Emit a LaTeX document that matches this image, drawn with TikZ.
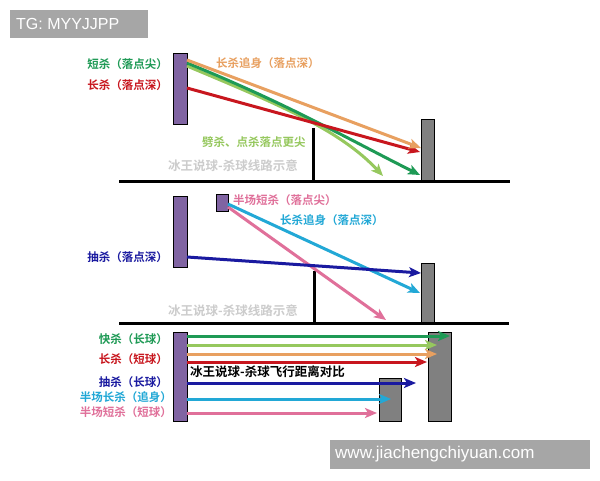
\documentclass[tikz,border=0pt]{standalone}
\usepackage{fontspec}
\setmainfont{Liberation Sans}
\newfontfamily\cjk{Noto Sans CJK SC}[BoldFont={Noto Sans CJK SC Bold}]
\usetikzlibrary{arrows.meta}
\definecolor{purp}{HTML}{8064A2}
\definecolor{blk}{HTML}{808080}
\definecolor{dkgreen}{HTML}{1E9A55}
\definecolor{ltgreen}{HTML}{96C85E}
\definecolor{orng}{HTML}{E8A060}
\definecolor{rred}{HTML}{C8161E}
\definecolor{bblue}{HTML}{1A1AA0}
\definecolor{ccyan}{HTML}{22A8D6}
\definecolor{pink}{HTML}{E0709A}
\definecolor{wmgray}{HTML}{A6A6A6}
\begin{document}
\begin{tikzpicture}[x=1pt,y=-1pt,
  racket/.style={draw=black,line width=1.4pt,fill=purp,inner sep=0pt,anchor=north west},
  block/.style={draw=black,line width=1.2pt,fill=blk,inner sep=0pt,anchor=north west},
  lbl/.style={font=\cjk\bfseries\fontsize{11.5}{13}\selectfont,inner sep=0pt},
  arr/.style={line width=3pt,-{Stealth[length=12pt,width=10pt,inset=3pt]}},
  wm/.style={font=\cjk\bfseries\fontsize{12.5}{14}\selectfont,text=gray!40,inner sep=0pt},
  court/.style={line width=3pt,black},
  stamp/.style={fill=wmgray,text=white,inner sep=0pt,font=\fontsize{16}{18}\selectfont}]
\useasboundingbox (0,0) rectangle (600,480);
\fill[white] (0,0) rectangle (600,480);
% watermarks
\node[stamp,minimum width=138pt,minimum height=28pt,anchor=north west] (tg) at (10,10) {};
\node[text=white,font=\fontsize{16}{18}\selectfont,anchor=west,inner sep=0pt] (tgt) at (16,24) {TG: MYYJJPP};
\node[stamp,minimum width=260pt,minimum height=29pt,anchor=north west] (web) at (330,440) {};
\node[text=white,font=\fontsize{17}{19}\selectfont,anchor=west,inner sep=0pt] (webt) at (335,454) {www.jiachengchiyuan.com};

% ===== Section 1 =====
\draw[court] (119,181) -- (510,181);
\draw[court] (313,128) -- (313,181);
\node[racket,minimum width=14pt,minimum height=71pt] (r1) at (173,53) {};
\node[block,minimum width=13pt,minimum height=61pt] (b1) at (421,119) {};
\node[lbl,text=dkgreen,anchor=east] (l11) at (168,64) {短杀（落点尖）};
\node[lbl,text=rred,anchor=east] (l12) at (168,85) {长杀（落点深）};
\node[lbl,text=orng,anchor=west] (l13) at (216,63) {长杀追身（落点深）};
\node[lbl,text=ltgreen,anchor=west] (l14) at (202,142) {劈杀、点杀落点更尖};
\node[wm,anchor=west] (w1) at (168,166) {冰王说球-杀球线路示意};
\coordinate (s1o) at (187,60);
\coordinate (s1r) at (187,88);
\coordinate (s1g) at (187,63);
\coordinate (s1l) at (187,66);
\coordinate (e1o) at (421,148);
\coordinate (e1r) at (420,152);
\coordinate (e1g) at (420,175);
\coordinate (e1l) at (383,176);
\draw[arr,ltgreen] (s1l) .. controls (280,105) and (340,130) .. (e1l);
\draw[arr,dkgreen] (s1g) .. controls (290,105) and (350,140) .. (e1g);
\draw[arr,rred] (s1r) -- (e1r);
\draw[arr,orng] (s1o) -- (e1o);

% ===== Section 2 =====
\draw[court] (119,323) -- (509,323);
\draw[court] (314,271) -- (314,323);
\node[racket,minimum width=14pt,minimum height=71pt] (r2) at (173,196) {};
\node[racket,minimum width=12pt,minimum height=17pt] (r2s) at (216,194) {};
\node[block,minimum width=13pt,minimum height=59pt] (b2) at (421,263) {};
\node[lbl,text=pink,anchor=west] (l21) at (233,200) {半场短杀（落点尖）};
\node[lbl,text=ccyan,anchor=west] (l22) at (280,220) {长杀追身（落点深）};
\node[lbl,text=bblue,anchor=east] (l23) at (168,257) {抽杀（落点深）};
\node[wm,anchor=west] (w2) at (168,311) {冰王说球-杀球线路示意};
\coordinate (s2b) at (187,257);
\coordinate (s2c) at (228,204);
\coordinate (s2p) at (228,207);
\coordinate (e2b) at (421,273);
\coordinate (e2c) at (420,293);
\coordinate (e2p) at (386,320);
\draw[arr,pink] (s2p) -- (e2p);
\draw[arr,ccyan] (s2c) -- (e2c);
\draw[arr,bblue] (s2b) -- (e2b);

% ===== Section 3 =====
\node[racket,minimum width=14pt,minimum height=89pt] (r3) at (173,332) {};
\node[block,minimum width=23pt,minimum height=89pt] (b3) at (428,332) {};
\node[block,minimum width=22pt,minimum height=43pt] (b3s) at (379,378) {};
\node[lbl,text=dkgreen,anchor=east] (l31) at (168,339) {快杀（长球）};
\node[lbl,text=rred,anchor=east] (l32) at (168,359) {长杀（短球）};
\node[lbl,text=bblue,anchor=east] (l33) at (168,382) {抽杀（长球）};
\node[lbl,text=ccyan,anchor=east] (l34) at (172,397) {半场长杀（追身）};
\node[lbl,text=pink,anchor=east] (l35) at (172,412) {半场短杀（短球）};
\node[font=\cjk\bfseries\fontsize{12.5}{14}\selectfont,inner sep=0pt,anchor=west] (t3) at (190,372) {冰王说球-杀球飞行距离对比};
\coordinate (s3a) at (187,336);
\coordinate (s3b) at (187,345);
\coordinate (s3c) at (187,354);
\coordinate (s3d) at (187,362);
\coordinate (s3e) at (187,383);
\coordinate (s3f) at (187,399);
\coordinate (s3g) at (187,413);
\coordinate (e3a) at (450,336);
\coordinate (e3b) at (437,345);
\coordinate (e3c) at (437,354);
\coordinate (e3d) at (427,362);
\coordinate (e3e) at (416,383);
\coordinate (e3f) at (391,399);
\coordinate (e3g) at (377,413);
\draw[arr,dkgreen] (s3a) -- (e3a);
\draw[arr,ltgreen] (s3b) -- (e3b);
\draw[arr,orng] (s3c) -- (e3c);
\draw[arr,rred] (s3d) -- (e3d);
\draw[arr,bblue] (s3e) -- (e3e);
\draw[arr,ccyan] (s3f) -- (e3f);
\draw[arr,pink] (s3g) -- (e3g);
\end{tikzpicture}
\end{document}
